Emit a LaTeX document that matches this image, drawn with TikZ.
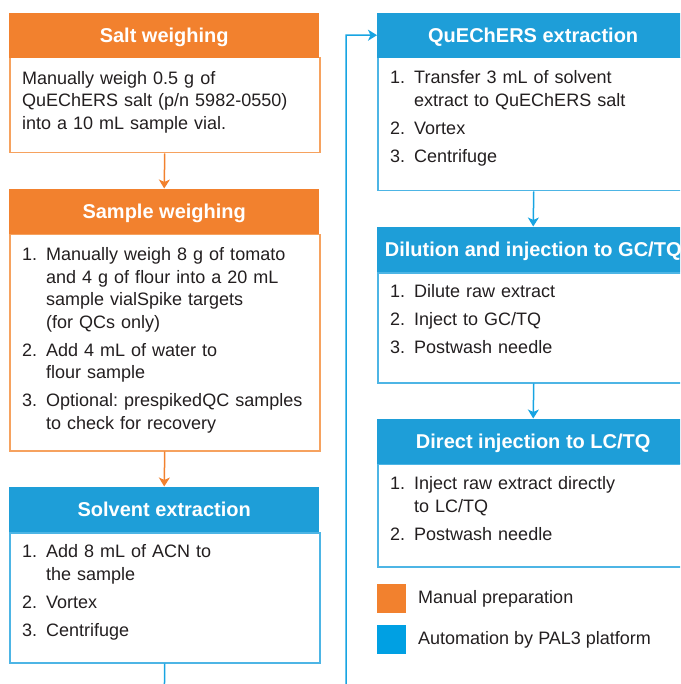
\documentclass[tikz,border=0pt]{standalone}
\usepackage{fontspec}
\setmainfont{Liberation Sans}
\usetikzlibrary{arrows.meta}
\frenchspacing

\definecolor{mporange}{HTML}{F2812E}
\definecolor{mporangeline}{HTML}{F6A25F}
\definecolor{palblue}{HTML}{1E9ED8}
\definecolor{palblueline}{HTML}{4DB5E5}
\definecolor{linkblue}{HTML}{17A4E2}
\definecolor{keyblue}{HTML}{00A0E3}
\definecolor{bodyink}{HTML}{231F20}

% one numbered step with a hanging indent (wrap with \newline inside)
\newcommand{\stepline}[2]{\noindent\hangindent=24pt\hangafter=1\makebox[24pt][l]{\strut#1}#2\par}

\tikzset{
  hdrbase/.style={rectangle, inner sep=0pt, text=white, anchor=north west,
    font=\fontsize{20}{24}\selectfont\bfseries, minimum height=45pt,
    text height=14.5pt, text depth=0pt},
  hdrorange/.style={hdrbase, fill=mporange},
  hdrblue/.style={hdrbase, fill=palblue},
  bodyorange/.style={rectangle, draw=mporangeline, line width=1.5pt, fill=white,
    inner sep=0pt, anchor=north west},
  bodyblue/.style={rectangle, draw=palblueline, line width=1.5pt, fill=white,
    inner sep=0pt, anchor=north west},
  steptext/.style={anchor=north west, inner sep=0pt, text width=292pt, align=left,
    text=bodyink, font=\fontsize{18}{22.5}\selectfont},
  linkorange/.style={draw=mporange, line width=1.5pt,
    -{Stealth[length=9pt, width=11pt, inset=2.5pt]}},
  linkblue/.style={draw=linkblue, line width=1.5pt,
    -{Stealth[length=9pt, width=11pt, inset=2.5pt]}},
  keybox/.style={rectangle, inner sep=0pt, minimum size=29pt, anchor=north west},
  keytext/.style={anchor=west, inner sep=0pt, text=bodyink,
    font=\fontsize{18}{22}\selectfont}
}

\begin{document}
\begin{tikzpicture}[x=1pt, y=-1pt]
\useasboundingbox (0,0) rectangle (680,684);
\begin{scope}
\clip (0,0) rectangle (680,684);

% ---- left column: manual preparation ----
\node[bodyorange, minimum width=310pt, minimum height=95pt] (saltb) at (9,57) {};
\node[hdrorange, minimum width=310pt] (salth) at (9,12.5) {Salt weighing};
\node[steptext] (saltt) at (22,68.5) {\strut Manually weigh 0.5 g of\newline QuEChERS salt (p/n 5982-0550)\newline into a 10 mL sample vial.};

\node[bodyorange, minimum width=310pt, minimum height=216pt] (sampleb) at (9,234) {};
\node[hdrorange, minimum width=310pt] (sampleh) at (9,188.5) {Sample weighing};
\node[steptext] (samplet) at (22,245) {\setlength{\parskip}{5.5pt}%
  \stepline{1.}{Manually weigh 8 g of tomato\newline and 4 g of flour into a 20 mL\newline sample vialSpike targets\newline (for QCs only)}
  \stepline{2.}{Add 4 mL of water to\newline flour sample}
  \stepline{3.}{Optional: prespikedQC samples\newline to check for recovery}};

\node[bodyblue, minimum width=310pt, minimum height=130pt] (solventb) at (9,532) {};
\node[hdrblue, minimum width=310pt] (solventh) at (9,486.5) {Solvent extraction};
\node[steptext] (solventt) at (22,542) {\setlength{\parskip}{5.5pt}%
  \stepline{1.}{Add 8 mL of ACN to\newline the sample}
  \stepline{2.}{Vortex}
  \stepline{3.}{Centrifuge}};

% ---- right column: PAL3 automation ----
\node[bodyblue, minimum width=312pt, minimum height=133pt] (quechersb) at (377,57) {};
\node[hdrblue, minimum width=312pt] (quechersh) at (377,12.5) {QuEChERS extraction};
\node[steptext] (quecherst) at (390,68) {\setlength{\parskip}{5.5pt}%
  \stepline{1.}{Transfer 3 mL of solvent\newline extract to QuEChERS salt}
  \stepline{2.}{Vortex}
  \stepline{3.}{Centrifuge}};

\node[bodyblue, minimum width=312pt, minimum height=110pt] (dilutionb) at (377,272) {};
\node[hdrblue, minimum width=312pt] (dilutionh) at (377,226.5) {Dilution and injection to GC/TQ};
\node[steptext] (dilutiont) at (390,282) {\setlength{\parskip}{5.5pt}%
  \stepline{1.}{Dilute raw extract}
  \stepline{2.}{Inject to GC/TQ}
  \stepline{3.}{Postwash needle}};

\node[bodyblue, minimum width=312pt, minimum height=103pt] (directb) at (377,463) {};
\node[hdrblue, minimum width=312pt] (directh) at (377,418.5) {Direct injection to LC/TQ};
\node[steptext] (directt) at (390,474) {\setlength{\parskip}{5.5pt}%
  \stepline{1.}{Inject raw extract directly\newline to LC/TQ}
  \stepline{2.}{Postwash needle}};

% ---- key ----
\node[keybox, fill=mporange] (keymanual) at (377,584) {};
\node[keytext] (keymanualt) at (418,599) {Manual preparation};
\node[keybox, fill=keyblue] (keyauto) at (377,625) {};
\node[keytext] (keyautot) at (418,640) {Automation by PAL3 platform};

% ---- connectors ----
\draw[linkorange] (saltb.south) -- (sampleh.north);
\draw[linkorange] (sampleb.south) -- (solventh.north);
\coordinate (loopl) at (164,720);
\coordinate (loopr) at (346,720);
\draw[linkblue] (solventb.south) -- (loopl) -- (loopr) |- (quechersh.west);
\draw[linkblue] (quechersb.south) -- (dilutionh.north);
\draw[linkblue] (dilutionb.south) -- (directh.north);
\end{scope}
\end{tikzpicture}
\end{document}
